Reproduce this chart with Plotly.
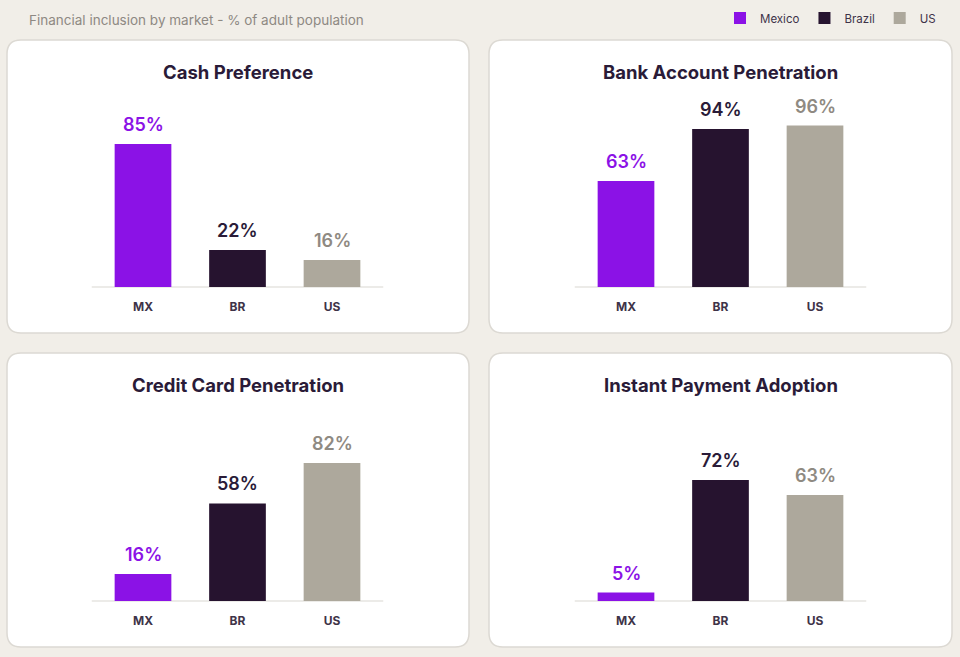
import plotly.graph_objects as go

W, H = 960, 657

panel_titles = ["Cash Preference", "Bank Account Penetration",
                "Credit Card Penetration", "Instant Payment Adoption"]
markets = ["MX", "BR", "US"]
series_names = ["Mexico", "Brazil", "US"]
mexico = [85, 63, 16, 5]
brazil = [22, 94, 58, 72]
us = [16, 96, 82, 63]

bar_colors = ["#8B12E6", "#26132F", "#ADA89C"]
label_colors = ["#8B12E6", "#2A1B38", "#8F8A82"]

# panel boxes in pixels (x0, y0, x1, y1) and plot area per panel
boxes = [(7, 40, 469, 333), (489, 40, 952, 333),
         (7, 353, 469, 647), (489, 353, 952, 647)]
plot_x = [(95.75, 379.25), (578.75, 862.25), (95.75, 379.25), (578.75, 862.25)]
baseline_y = [287, 287, 601, 601]
top_pad = 185  # pixels from baseline to top of y range


def px(x):
    return x / W


def py(y):
    return 1 - y / H


def rounded_box(x0, y0, x1, y1, r=14):
    rx, ry = r / W, r / H
    a, b, c, d = px(x0), py(y1), px(x1), py(y0)
    return (f"M {a+rx},{b} L {c-rx},{b} Q {c},{b} {c},{b+ry} "
            f"L {c},{d-ry} Q {c},{d} {c-rx},{d} L {a+rx},{d} "
            f"Q {a},{d} {a},{d-ry} L {a},{b+ry} Q {a},{b} {a+rx},{b} Z")


fig = go.Figure()
values = [mexico, brazil, us]
annotations = []

for p in range(4):
    ax = "" if p == 0 else str(p + 1)
    for s in range(3):
        v = values[s][p]
        fig.add_trace(go.Bar(
            x=[markets[s]], y=[v], width=0.6,
            name=series_names[s], legendgroup=series_names[s],
            showlegend=(p == 0),
            marker=dict(color=bar_colors[s], line=dict(width=0)),
            xaxis="x" + ax, yaxis="y" + ax,
            hoverinfo="skip",
        ))
        # value label above each bar
        annotations.append(dict(
            x=markets[s], y=v, xref="x" + ax, yref="y" + ax,
            text=f"{v}%", showarrow=False, xanchor="center", yanchor="bottom",
            yshift=7, font=dict(color=label_colors[s], size=18, family="Inter", weight=600),
        ))

shapes = []
for p in range(4):
    x0, y0, x1, y1 = boxes[p]
    shapes.append(dict(type="path", xref="paper", yref="paper",
                       path=rounded_box(x0, y0, x1, y1),
                       fillcolor="white", line=dict(color="#DCD9D3", width=1.5),
                       layer="below"))
    annotations.append(dict(text=f"<b>{panel_titles[p]}</b>", xref="paper", yref="paper",
                            x=px((x0 + x1) / 2), y=py(y0 + 32), showarrow=False,
                            xanchor="center", yanchor="middle",
                            font=dict(size=18.5, color="#2A1B38", family="Inter")))
    b = baseline_y[p]
    shapes.append(dict(type="line", xref="paper", yref="paper",
                       x0=px(plot_x[p][0] - 4), x1=px(plot_x[p][1] + 4),
                       y0=py(b), y1=py(b), line=dict(color="#E6E4E0", width=1.5),
                       layer="below"))

annotations.append(dict(text="Financial inclusion by market - % of adult population",
                        xref="paper", yref="paper", x=px(27), y=py(20),
                        xanchor="left", yanchor="middle", showarrow=False,
                        font=dict(size=13.5, color="#8E8983", family="Inter")))

layout = dict(
    width=W, height=H,
    paper_bgcolor="#F1EEE8", plot_bgcolor="rgba(0,0,0,0)",
    margin=dict(l=0, r=0, t=0, b=0),
    barmode="overlay",
    shapes=shapes, annotations=annotations,
    legend=dict(orientation="h", x=px(941), xanchor="right", y=py(18), yanchor="middle",
                font=dict(size=11.5, color="#3E3348", family="Inter"),
                bgcolor="rgba(0,0,0,0)", itemclick=False, traceorder="normal",
                entrywidth=0, itemwidth=30),
    showlegend=True,
)

for p in range(4):
    ax = "" if p == 0 else str(p + 1)
    b = baseline_y[p]
    layout["xaxis" + ax] = dict(
        domain=[px(plot_x[p][0]), px(plot_x[p][1])],
        anchor="y" + ax, categoryorder="array", categoryarray=markets,
        showgrid=False, zeroline=False, showline=False, ticks="",
        tickfont=dict(size=12, color="#3E3348", family="Inter", weight=700),
        ticklabelstandoff=11, fixedrange=True,
    )
    layout["yaxis" + ax] = dict(
        domain=[py(b), py(b - top_pad)], range=[0, 110],
        anchor="x" + ax, visible=False, fixedrange=True,
    )

fig.update_layout(**layout)
fig.write_html("out.html", config={"displayModeBar": False},
               post_script="document.body.style.margin='0';"
                           "document.body.style.background='#F1EEE8';")
